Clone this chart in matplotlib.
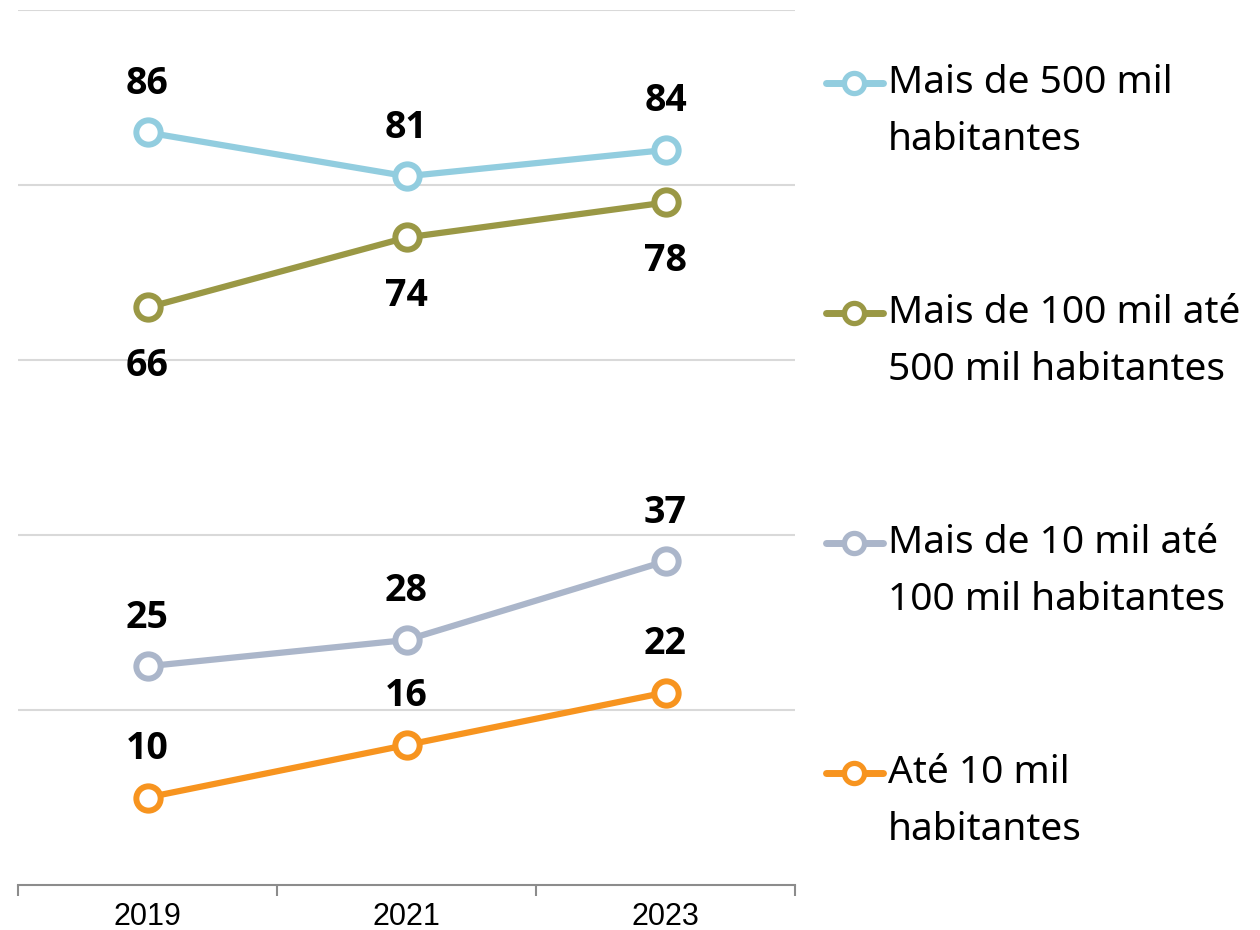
import matplotlib.pyplot as plt
from matplotlib.lines import Line2D

years = ["2019", "2021", "2023"]
series_names = [
    ["Mais de 500 mil", "habitantes"],
    ["Mais de 100 mil até", "500 mil habitantes"],
    ["Mais de 10 mil até", "100 mil habitantes"],
    ["Até 10 mil", "habitantes"],
]
values = [
    [86, 81, 84],
    [66, 74, 78],
    [25, 28, 37],
    [10, 16, 22],
]
label_above = [True, False, True, True]
colors = ["#92CDDF", "#9A9845", "#ABB6CA", "#F7941F"]

fig = plt.figure(figsize=(12.6, 9.3), dpi=100)
ax = fig.add_axes([18 / 1260, 1 - 885 / 930, (795 - 18) / 1260, 875 / 930])

x = list(range(len(years)))
for vals, col, above in zip(values, colors, label_above):
    ax.plot(x, vals, color=col, lw=4.5, marker="o", ms=17.5, mfc="white",
            mec=col, mew=4.3, zorder=3, clip_on=False)
    for xi, v in zip(x, vals):
        off = 35 if above else -42
        ax.annotate(str(v), (xi, v), xytext=(0, off), textcoords="offset points",
                    ha="center", va="center", fontsize=27, fontweight="bold",
                    family="Open Sans", color="black")

ax.set_xlim(-0.5, 2.5)
ax.set_ylim(0, 100)
ax.set_yticks(range(20, 101, 20))
ax.yaxis.grid(True, color="#D9D9D9", lw=1.5)
ax.set_axisbelow(True)
ax.tick_params(axis="y", left=False, labelleft=False)
for s in ["top", "right", "left"]:
    ax.spines[s].set_visible(False)
ax.spines["bottom"].set_color("#8C8C8C")
ax.spines["bottom"].set_linewidth(1.5)

ax.set_xticks(x)
ax.set_xticklabels(years, family="Liberation Sans", fontsize=22)
ax.set_xticks([-0.5, 0.5, 1.5, 2.5], minor=True)
ax.tick_params(axis="x", which="major", length=0, pad=12)
ax.tick_params(axis="x", which="minor", length=8, width=1.5, color="#8C8C8C",
               direction="out")

# legend drawn by hand so the marker sits on the first text line
for i, (name, col) in enumerate(zip(series_names, colors)):
    y1 = 1 - (83 + 230 * i) / 930
    y2 = 1 - (140 + 230 * i) / 930
    fig.add_artist(Line2D([826 / 1260, 883 / 1260], [y1, y1], color=col, lw=5,
                          solid_capstyle="round", transform=fig.transFigure))
    fig.add_artist(Line2D([854 / 1260], [y1], color=col, marker="o", ms=14.5,
                          mfc="white", mec=col, mew=3.8, transform=fig.transFigure))
    fig.text(888 / 1260, y1, name[0], ha="left", va="center", fontsize=28,
             family="Noto Sans")
    fig.text(888 / 1260, y2, name[1], ha="left", va="center", fontsize=28,
             family="Noto Sans")

fig.savefig("out.png", dpi=100)
